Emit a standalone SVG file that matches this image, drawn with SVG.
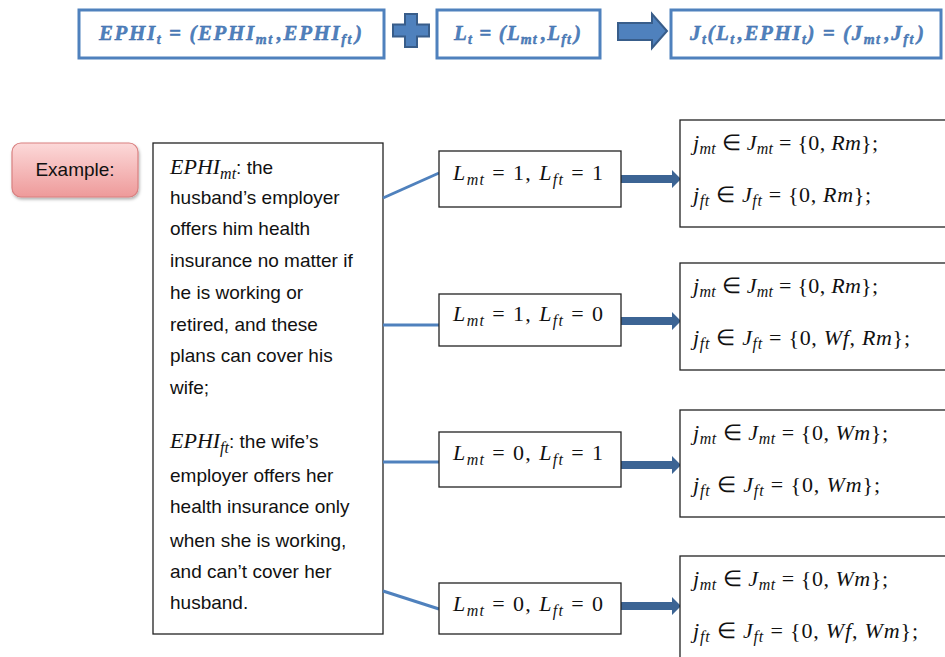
<svg xmlns="http://www.w3.org/2000/svg" width="945" height="657" viewBox="0 0 945 657">
<style>
.tb{fill:#fff;stroke:#4f81bd;stroke-width:3}
.tf{font-family:"Liberation Serif",serif;font-weight:bold;font-style:italic;font-size:21px;fill:#4f81bd;stroke:#3a6aa8;stroke-width:0.4}
.bx{fill:#fff;stroke:#222;stroke-width:1.3}
.t{font-family:"Liberation Sans",Arial,sans-serif;font-size:19px;fill:#111}
.m{font-family:"Liberation Serif",serif;font-size:22px;fill:#111}
.i{font-style:italic}
.s{font-size:16px;font-style:italic}
.conn{stroke:#4f81bd;stroke-width:3;fill:none}
.arr{fill:#3c6494}
</style>
<defs>
<linearGradient id="pink" x1="0" y1="0" x2="0" y2="1">
<stop offset="0" stop-color="#fcd9d9"/>
<stop offset="1" stop-color="#ee9a9a"/>
</linearGradient>
<filter id="sh" x="-10%" y="-10%" width="130%" height="140%">
<feDropShadow dx="1" dy="2" stdDeviation="1.5" flood-color="#000" flood-opacity="0.3"/>
</filter>
</defs>

<g id="top-ephi">
<rect class="tb" x="79" y="10" width="305" height="48"/>
<text class="tf" x="99" y="40" textLength="263" lengthAdjust="spacing">EPHI<tspan dy="4" font-size="14">t</tspan><tspan dy="-4"> = (EPHI</tspan><tspan dy="4" font-size="14">mt</tspan><tspan dy="-4" dx="3">,EPHI</tspan><tspan dy="4" font-size="14">ft</tspan><tspan dy="-4" dx="2">)</tspan></text>
</g>
<g id="top-plus">
<path d="M405,14 H417 V24.5 H429 V36.5 H417 V47 H405 V36.5 H393 V24.5 H405 Z" fill="#4f81bd" stroke="#385d8a" stroke-width="2"/>
</g>
<g id="top-l">
<rect class="tb" x="437" y="10" width="163" height="48"/>
<text class="tf" x="454" y="40" textLength="127" lengthAdjust="spacing">L<tspan dy="4" font-size="14">t</tspan><tspan dy="-4"> = (L</tspan><tspan dy="4" font-size="14">mt</tspan><tspan dy="-4" dx="3">,L</tspan><tspan dy="4" font-size="14">ft</tspan><tspan dy="-4" dx="2">)</tspan></text>
</g>
<g id="top-arrow">
<path d="M618,23 H652 V14 L667,31 L652,48 V40 H618 Z" fill="#4f81bd" stroke="#385d8a" stroke-width="2"/>
</g>
<g id="top-j">
<rect class="tb" x="671" y="10" width="270" height="48"/>
<text class="tf" x="690" y="40" textLength="234" lengthAdjust="spacing">J<tspan dy="4" font-size="14">t</tspan><tspan dy="-4">(L</tspan><tspan dy="4" font-size="14">t</tspan><tspan dy="-4" dx="2">,EPHI</tspan><tspan dy="4" font-size="14">t</tspan><tspan dy="-4">) = (J</tspan><tspan dy="4" font-size="14">mt</tspan><tspan dy="-4" dx="3">,J</tspan><tspan dy="4" font-size="14">ft</tspan><tspan dy="-4" dx="2">)</tspan></text>
</g>

<g id="example">
<rect x="12" y="143" width="126" height="54" rx="9" fill="url(#pink)" stroke="#d98080" stroke-width="1.2" filter="url(#sh)"/>
<text class="t" x="75" y="176" text-anchor="middle" font-size="19">Example:</text>
</g>

<g id="description">
<rect class="bx" x="153" y="143" width="230" height="491"/>
<text class="t">
<tspan x="170" y="174"><tspan class="m i" font-size="21">EPHI</tspan><tspan class="m s" dy="5" font-size="15">mt</tspan><tspan dy="-5">: the</tspan></tspan>
<tspan x="170" y="204">husband’s employer</tspan>
<tspan x="170" y="235">offers him health</tspan>
<tspan x="170" y="267">insurance no matter if</tspan>
<tspan x="170" y="299">he is working or</tspan>
<tspan x="170" y="331">retired, and these</tspan>
<tspan x="170" y="362">plans can cover his</tspan>
<tspan x="170" y="394">wife;</tspan>
<tspan x="170" y="448"><tspan class="m i" font-size="21">EPHI</tspan><tspan class="m s" dy="5" font-size="15">ft</tspan><tspan dy="-5">: the wife’s</tspan></tspan>
<tspan x="170" y="482">employer offers her</tspan>
<tspan x="170" y="513">health insurance only</tspan>
<tspan x="170" y="547">when she is working,</tspan>
<tspan x="170" y="578">and can’t cover her</tspan>
<tspan x="170" y="609">husband.</tspan>
</text>
</g>

<g id="connectors">
<line class="conn" x1="383" y1="198" x2="439" y2="173"/>
<line class="conn" x1="383" y1="325" x2="439" y2="325"/>
<line class="conn" x1="383" y1="462" x2="439" y2="462"/>
<line class="conn" x1="383" y1="591" x2="439" y2="609"/>
<path class="arr" d="M621,175 H672 V170 L681,179 L672,188 V183 H621 Z"/>
<path class="arr" d="M621,317 H672 V312 L681,321 L672,330 V325 H621 Z"/>
<path class="arr" d="M621,461 H672 V456 L681,465 L672,474 V469 H621 Z"/>
<path class="arr" d="M621,602 H672 V597 L681,606 L672,615 V610 H621 Z"/>
</g>

<g id="l11">
<rect class="bx" x="439" y="151" width="182" height="56"/>
<text class="m" x="453" y="180" textLength="150" lengthAdjust="spacing"><tspan class="i">L</tspan><tspan class="s" dy="5">mt</tspan><tspan dy="-5"> = 1, </tspan><tspan class="i">L</tspan><tspan class="s" dy="5">ft</tspan><tspan dy="-5"> = 1</tspan></text>
</g>
<g id="l10">
<rect class="bx" x="439" y="294" width="182" height="52"/>
<text class="m" x="453" y="321" textLength="150" lengthAdjust="spacing"><tspan class="i">L</tspan><tspan class="s" dy="5">mt</tspan><tspan dy="-5"> = 1, </tspan><tspan class="i">L</tspan><tspan class="s" dy="5">ft</tspan><tspan dy="-5"> = 0</tspan></text>
</g>
<g id="l01">
<rect class="bx" x="439" y="432" width="182" height="55"/>
<text class="m" x="453" y="460" textLength="150" lengthAdjust="spacing"><tspan class="i">L</tspan><tspan class="s" dy="5">mt</tspan><tspan dy="-5"> = 0, </tspan><tspan class="i">L</tspan><tspan class="s" dy="5">ft</tspan><tspan dy="-5"> = 1</tspan></text>
</g>
<g id="l00">
<rect class="bx" x="439" y="583" width="182" height="51"/>
<text class="m" x="453" y="611" textLength="150" lengthAdjust="spacing"><tspan class="i">L</tspan><tspan class="s" dy="5">mt</tspan><tspan dy="-5"> = 0, </tspan><tspan class="i">L</tspan><tspan class="s" dy="5">ft</tspan><tspan dy="-5"> = 0</tspan></text>
</g>

<g id="j11">
<rect class="bx" x="680" y="120" width="280" height="107"/>
<text class="m" x="693" y="150" textLength="185" lengthAdjust="spacing"><tspan class="i">j</tspan><tspan class="s" dy="4">mt</tspan><tspan dy="-4"> ∈ </tspan><tspan class="i">J</tspan><tspan class="s" dy="4">mt</tspan><tspan dy="-4"> = {0, </tspan><tspan class="i">Rm</tspan><tspan>};</tspan></text>
<text class="m" x="693" y="202" textLength="178" lengthAdjust="spacing"><tspan class="i">j</tspan><tspan class="s" dy="4">ft</tspan><tspan dy="-4"> ∈ </tspan><tspan class="i">J</tspan><tspan class="s" dy="4">ft</tspan><tspan dy="-4"> = {0, </tspan><tspan class="i">Rm</tspan><tspan>};</tspan></text>
</g>
<g id="j10">
<rect class="bx" x="680" y="263" width="280" height="107"/>
<text class="m" x="693" y="293" textLength="185" lengthAdjust="spacing"><tspan class="i">j</tspan><tspan class="s" dy="4">mt</tspan><tspan dy="-4"> ∈ </tspan><tspan class="i">J</tspan><tspan class="s" dy="4">mt</tspan><tspan dy="-4"> = {0, </tspan><tspan class="i">Rm</tspan><tspan>};</tspan></text>
<text class="m" x="693" y="345" textLength="217" lengthAdjust="spacing"><tspan class="i">j</tspan><tspan class="s" dy="4">ft</tspan><tspan dy="-4"> ∈ </tspan><tspan class="i">J</tspan><tspan class="s" dy="4">ft</tspan><tspan dy="-4"> = {0, </tspan><tspan class="i">Wf</tspan><tspan>, </tspan><tspan class="i">Rm</tspan><tspan>};</tspan></text>
</g>
<g id="j01">
<rect class="bx" x="680" y="410" width="280" height="107"/>
<text class="m" x="693" y="440" textLength="195" lengthAdjust="spacing"><tspan class="i">j</tspan><tspan class="s" dy="4">mt</tspan><tspan dy="-4"> ∈ </tspan><tspan class="i">J</tspan><tspan class="s" dy="4">mt</tspan><tspan dy="-4"> = {0, </tspan><tspan class="i">Wm</tspan><tspan>};</tspan></text>
<text class="m" x="693" y="492" textLength="187" lengthAdjust="spacing"><tspan class="i">j</tspan><tspan class="s" dy="4">ft</tspan><tspan dy="-4"> ∈ </tspan><tspan class="i">J</tspan><tspan class="s" dy="4">ft</tspan><tspan dy="-4"> = {0, </tspan><tspan class="i">Wm</tspan><tspan>};</tspan></text>
</g>
<g id="j00">
<rect class="bx" x="680" y="556" width="280" height="120"/>
<text class="m" x="693" y="586" textLength="195" lengthAdjust="spacing"><tspan class="i">j</tspan><tspan class="s" dy="4">mt</tspan><tspan dy="-4"> ∈ </tspan><tspan class="i">J</tspan><tspan class="s" dy="4">mt</tspan><tspan dy="-4"> = {0, </tspan><tspan class="i">Wm</tspan><tspan>};</tspan></text>
<text class="m" x="693" y="638" textLength="225" lengthAdjust="spacing"><tspan class="i">j</tspan><tspan class="s" dy="4">ft</tspan><tspan dy="-4"> ∈ </tspan><tspan class="i">J</tspan><tspan class="s" dy="4">ft</tspan><tspan dy="-4"> = {0, </tspan><tspan class="i">Wf</tspan><tspan>, </tspan><tspan class="i">Wm</tspan><tspan>};</tspan></text>
</g>
</svg>
